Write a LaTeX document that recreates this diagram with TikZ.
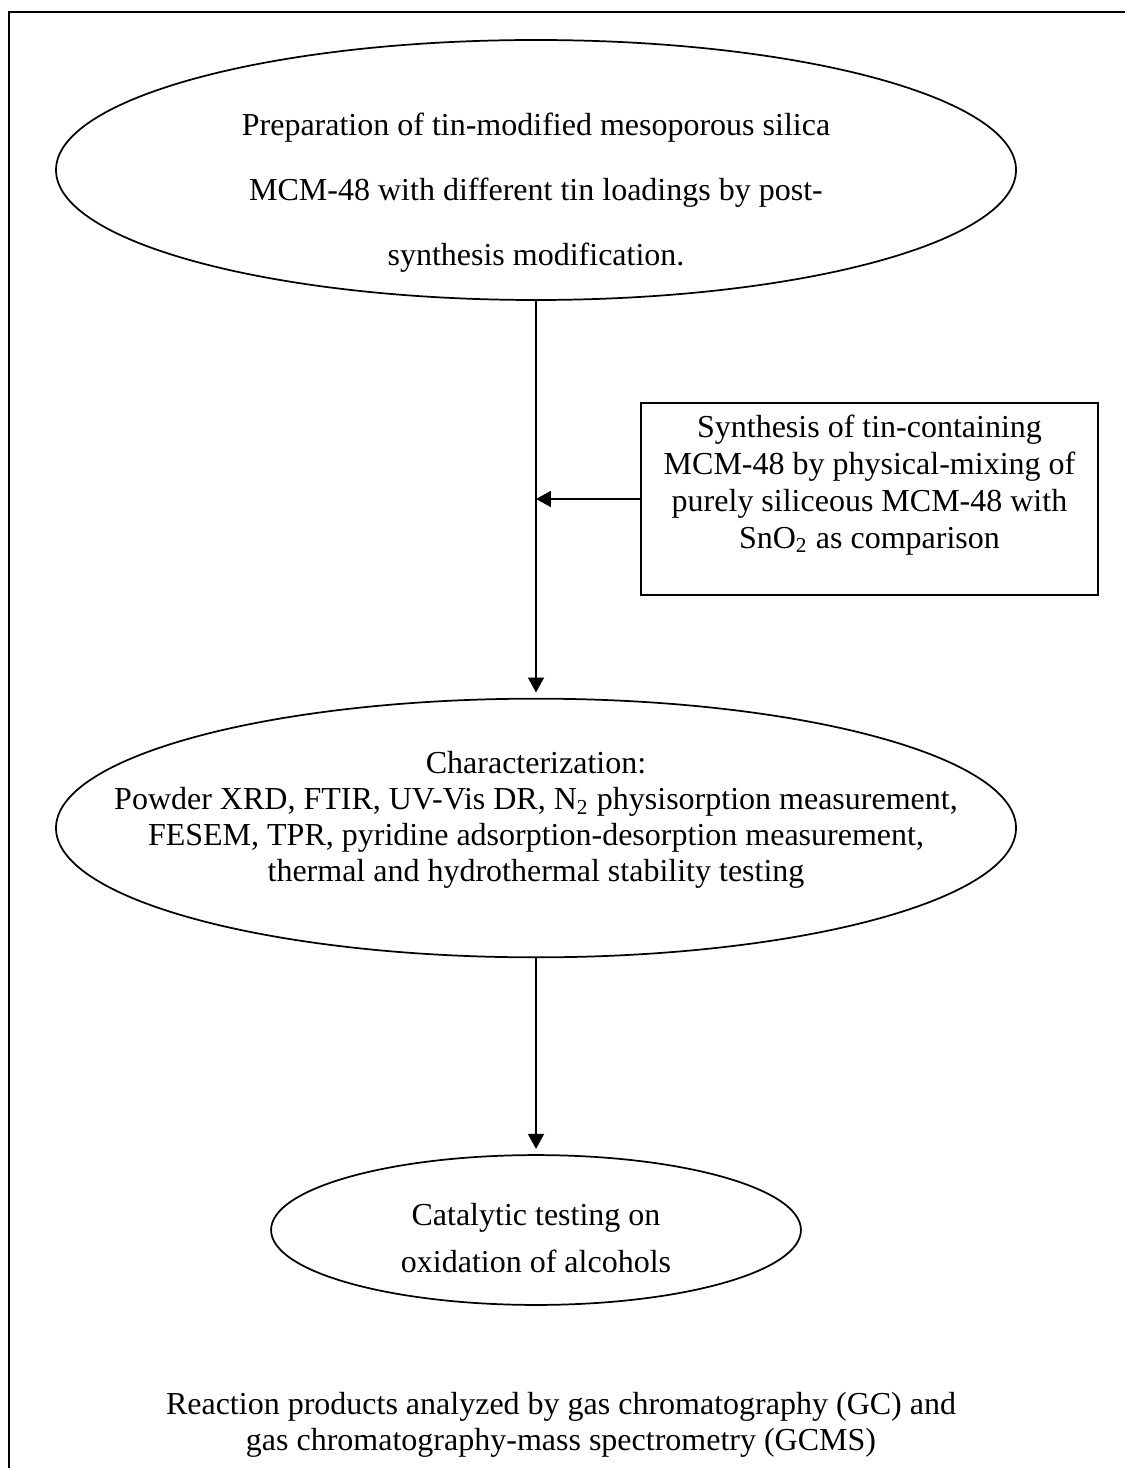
\documentclass[tikz,border=0pt]{standalone}
\usepackage{fontspec}
\setmainfont{Liberation Serif}
\usetikzlibrary{shapes.geometric,arrows.meta}

\begin{document}
\begin{tikzpicture}[x=0.375pt,y=-0.375pt,
    stage/.style={draw, ellipse, line width=0.65pt, inner sep=0pt},
    sidebox/.style={draw, rectangle, line width=0.65pt, inner sep=0pt,
        minimum width=171.4pt, minimum height=72pt},
    txt/.style={align=center, inner sep=0pt, font=\fontsize{12}{13.8}\selectfont},
    flow/.style={-{Triangle[length=5.6pt,width=6pt]}, line width=0.55pt}]
    \useasboundingbox (0,0) rectangle (1125,1468);

    % Frame
    \draw[line width=0.8pt] (1125,12) -- (9,12) -- (9,1468);

    % Preparation
    \node[stage, minimum width=360pt, minimum height=97.5pt] (prep) at (536,170) {};
    \node[txt, font=\fontsize{12}{24.4}\selectfont] (prep-txt) at (536,193)
        {Preparation of tin-modified mesoporous silica\\
         MCM-48 with different tin loadings by post-\\
         synthesis modification.};

    % Physical mixing (comparison)
    \node[sidebox] (synth) at (869.5,499) {};
    \node[txt] (synth-txt) at (869.5,485)
        {Synthesis of tin-containing\\
         MCM-48 by physical-mixing of\\
         purely siliceous MCM-48 with\\
         SnO\textsubscript{2} as comparison};

    % Characterization
    \node[stage, minimum width=360pt, minimum height=97pt] (charac) at (536,828) {};
    \node[txt, font=\fontsize{12}{13.5}\selectfont] (charac-txt) at (536,820)
        {Characterization:\\
         Powder XRD, FTIR, UV-Vis DR, N\textsubscript{2} physisorption measurement,\\
         FESEM, TPR, pyridine adsorption-desorption measurement,\\
         thermal and hydrothermal stability testing};

    % Catalytic testing
    \node[stage, minimum width=198.7pt, minimum height=56.2pt] (cat) at (536,1230) {};
    \node[txt, font=\fontsize{12}{17.6}\selectfont] (cat-txt) at (536,1238)
        {Catalytic testing on\\
         oxidation of alcohols};

    % Products
    \node[txt, font=\fontsize{12}{13.5}\selectfont] (prod) at (561,1425)
        {Reaction products analyzed by gas chromatography (GC) and\\
         gas chromatography-mass spectrometry (GCMS)};

    % Arrows
    \coordinate (join) at (prep.south |- synth.west);
    \draw[flow, shorten >=2pt] (prep.south) -- (charac.north);
    \draw[flow] (synth.west) -- (join);
    \draw[flow, shorten >=2pt] (charac.south) -- (cat.north);
\end{tikzpicture}
\end{document}
